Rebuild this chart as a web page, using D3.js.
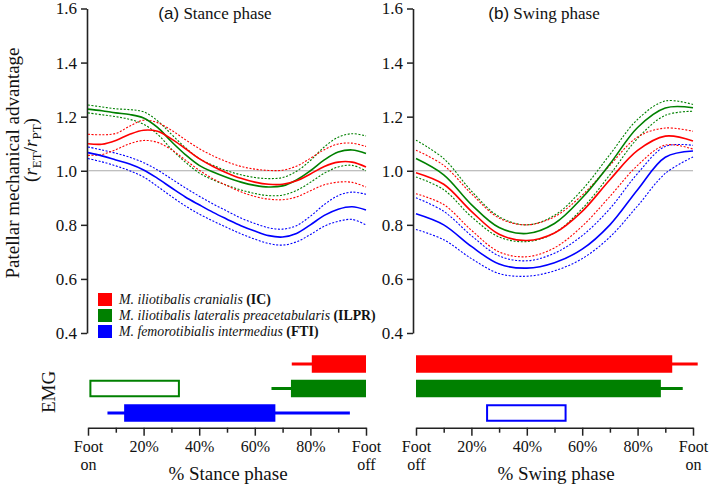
<!DOCTYPE html>
<html>
<head>
<meta charset="utf-8">
<script src="https://cdn.jsdelivr.net/npm/d3@7"></script>
<style>
  body { margin: 0; background: #fff; }
  svg text { font-family: "Liberation Serif", "Times New Roman", serif; fill: #111; }
</style>
</head>
<body>
<div id="chart"></div>
<script>
"use strict";
// Patellar mechanical advantage over stance / swing, with EMG activity bars below.

const pctStance = [0, 5, 10, 15, 20, 25, 30, 35, 40, 45, 50, 55, 60, 65, 70, 75, 80, 85, 90, 95, 100];
const pctSwing = [0, 10, 20, 30, 40, 50, 60, 70, 80, 90, 100];

// stance phase (mean, upper and lower dotted bounds)
const stanceICMean    = [1.100, 1.098, 1.112, 1.135, 1.150, 1.146, 1.118, 1.082, 1.045, 1.016, 0.992, 0.972, 0.958, 0.950, 0.950, 0.963, 0.988, 1.016, 1.032, 1.032, 1.014];
const stanceICUpper   = [1.135, 1.133, 1.138, 1.165, 1.187, 1.178, 1.150, 1.115, 1.082, 1.055, 1.033, 1.016, 1.006, 1.001, 1.002, 1.017, 1.046, 1.078, 1.099, 1.102, 1.090];
const stanceICLower   = [1.057, 1.060, 1.078, 1.100, 1.112, 1.105, 1.078, 1.040, 1.002, 0.970, 0.945, 0.922, 0.905, 0.895, 0.893, 0.903, 0.926, 0.948, 0.958, 0.957, 0.940];
const stanceILPRMean  = [1.228, 1.222, 1.214, 1.208, 1.195, 1.160, 1.108, 1.060, 1.020, 0.995, 0.975, 0.958, 0.946, 0.940, 0.944, 0.966, 1.000, 1.040, 1.069, 1.077, 1.064];
const stanceILPRUpper = [1.243, 1.236, 1.229, 1.226, 1.218, 1.185, 1.135, 1.086, 1.045, 1.020, 1.000, 0.985, 0.975, 0.971, 0.975, 0.998, 1.038, 1.088, 1.124, 1.137, 1.129];
const stanceILPRLower = [1.214, 1.207, 1.200, 1.190, 1.172, 1.135, 1.080, 1.032, 0.992, 0.966, 0.946, 0.929, 0.916, 0.908, 0.910, 0.927, 0.957, 0.991, 1.014, 1.020, 1.000];
const stanceFTIMean   = [1.067, 1.055, 1.040, 1.025, 1.003, 0.972, 0.937, 0.903, 0.874, 0.846, 0.821, 0.797, 0.777, 0.760, 0.755, 0.768, 0.800, 0.835, 0.858, 0.867, 0.855];
const stanceFTIUpper  = [1.088, 1.077, 1.065, 1.050, 1.030, 1.003, 0.970, 0.937, 0.906, 0.877, 0.851, 0.825, 0.805, 0.789, 0.784, 0.797, 0.832, 0.875, 0.908, 0.921, 0.913];
const stanceFTILower  = [1.045, 1.033, 1.018, 1.000, 0.977, 0.942, 0.905, 0.870, 0.840, 0.814, 0.790, 0.767, 0.747, 0.731, 0.725, 0.737, 0.764, 0.795, 0.813, 0.820, 0.800];

// swing phase
const swingICMean    = [0.993, 0.950, 0.850, 0.765, 0.742, 0.770, 0.850, 0.967, 1.075, 1.128, 1.110];
const swingICUpper   = [1.076, 1.020, 0.915, 0.825, 0.800, 0.830, 0.910, 1.020, 1.125, 1.158, 1.146];
const swingICLower   = [0.915, 0.875, 0.780, 0.700, 0.682, 0.715, 0.795, 0.905, 1.020, 1.095, 1.080];
const swingILPRMean  = [1.045, 0.985, 0.875, 0.790, 0.768, 0.805, 0.900, 1.025, 1.160, 1.232, 1.233];
const swingILPRUpper = [1.113, 1.045, 0.925, 0.830, 0.800, 0.835, 0.930, 1.060, 1.190, 1.258, 1.245];
const swingILPRLower = [0.977, 0.930, 0.830, 0.755, 0.738, 0.770, 0.860, 0.985, 1.120, 1.205, 1.220];
const swingFTIMean   = [0.841, 0.800, 0.720, 0.655, 0.640, 0.660, 0.710, 0.800, 0.930, 1.050, 1.073];
const swingFTIUpper  = [0.900, 0.850, 0.760, 0.685, 0.667, 0.695, 0.760, 0.860, 0.990, 1.090, 1.094];
const swingFTILower  = [0.783, 0.745, 0.675, 0.620, 0.610, 0.630, 0.675, 0.755, 0.870, 0.990, 1.051];

const muscles = ["IC", "ILPR", "FTI"];
const muscleNames = ["M. iliotibalis cranialis", "M. iliotibalis lateralis preacetabularis", "M. femorotibialis intermedius"];

// EMG: active bar, thin whisker (range), hollow box (weak / variable)
const stanceActive  = [["IC", 80.5, 100], ["ILPR", 73, 100], ["FTI", 13, 67.4]];
const stanceWhisker = [["IC", 73.3, 100], ["ILPR", 66, 100], ["FTI", 7, 94.2]];
const stanceHollow  = [["ILPR", 0.5, 32.7]];
const swingActive   = [["IC", 0, 92.5], ["ILPR", 0, 88.4]];
const swingWhisker  = [["IC", 0, 101.7], ["ILPR", 0, 96.3]];
const swingHollow   = [["FTI", 25.3, 54]];

const yTicks = [0.4, 0.6, 0.8, 1.0, 1.2, 1.4, 1.6];
const xTicks = [0, 10, 20, 30, 40, 50, 60, 70, 80, 90, 100];
const stanceTickLabels = [["Foot", "on"], [], ["20%"], [], ["40%"], [], ["60%"], [], ["80%"], [], ["Foot", "off"]];
const swingTickLabels  = [["Foot", "off"], [], ["20%"], [], ["40%"], [], ["60%"], [], ["80%"], [], ["Foot", "on"]];

const color = { IC: "#ff0000", ILPR: "#008000", FTI: "#0000ff" };
const SERIF = "Liberation Serif, Times New Roman, serif";

const W = 709, H = 486;
const svg = d3.select("#chart").append("svg").attr("width", W).attr("height", H);

const y = d3.scaleLinear().domain([0.4, 1.6]).range([333, 8.5]);
const rowY = d3.scalePoint().domain(muscles).range([364, 413]);
const barH = 17.5, axisY = 427.7;

function drawPanel(p) {
  const x = d3.scaleLinear().domain([0, 100]).range(p.xRange);
  const g = svg.append("g");

  // y axis
  g.append("g").attr("transform", `translate(${p.axisX},0)`)
    .call(d3.axisLeft(y).tickValues(yTicks).tickFormat(d3.format(".1f")).tickSize(6).tickSizeOuter(0))
    .call((a) => {
      a.select(".domain").attr("stroke", "#222").attr("stroke-width", 1.6);
      a.selectAll(".tick line").attr("stroke", "#222").attr("stroke-width", 1.5);
      a.selectAll(".tick text").attr("font-size", 17).attr("font-family", SERIF).attr("fill", "#111").attr("dx", -1);
    });

  // reference line at 1.0
  g.append("line").attr("x1", p.axisX + 1).attr("x2", x(100))
    .attr("y1", y(1)).attr("y2", y(1)).attr("stroke", "#aaa").attr("stroke-width", 1.2);

  const line = d3.line().x((d, i) => x(p.pct[i])).y((d) => y(d)).curve(d3.curveCatmullRom.alpha(0.5));
  p.series.forEach((s) => {
    [s.upper, s.lower].forEach((arr) => {
      g.append("path").attr("d", line(arr)).attr("fill", "none")
        .attr("stroke", color[s.m]).attr("stroke-width", 1.1).attr("stroke-dasharray", "2,1.6");
    });
  });
  p.series.forEach((s) => {
    g.append("path").attr("d", line(s.mean)).attr("fill", "none")
      .attr("stroke", color[s.m]).attr("stroke-width", 1.6);
  });

  // title
  const t = g.append("text").attr("x", p.titleX).attr("y", 19).attr("text-anchor", "middle")
    .attr("font-size", 17).attr("font-family", SERIF);
  t.append("tspan").attr("font-family", "Liberation Sans, Arial, sans-serif").text(p.tag);
  t.append("tspan").text(" " + p.title);

  // EMG
  p.whisker.forEach(([m, a, b]) => {
    g.append("line").attr("x1", x(a)).attr("x2", x(b)).attr("y1", rowY(m)).attr("y2", rowY(m))
      .attr("stroke", color[m]).attr("stroke-width", 3);
  });
  p.active.forEach(([m, a, b]) => {
    g.append("rect").attr("x", x(a)).attr("width", x(b) - x(a)).attr("y", rowY(m) - barH / 2).attr("height", barH)
      .attr("fill", color[m]);
  });
  p.hollow.forEach(([m, a, b]) => {
    g.append("rect").attr("x", x(a) + 1).attr("width", x(b) - x(a) - 1).attr("y", rowY(m) - barH / 2 + 1).attr("height", barH - 2)
      .attr("fill", "#fff").attr("stroke", color[m]).attr("stroke-width", 2);
  });

  // bottom axis
  const xa = g.append("g").attr("transform", `translate(0,${axisY})`)
    .call(d3.axisBottom(x).tickValues(xTicks).tickSize(8).tickSizeOuter(0).tickFormat(""));
  xa.select(".domain").attr("stroke", "#222").attr("stroke-width", 1.6);
  xa.selectAll(".tick line").attr("stroke", "#222").attr("stroke-width", 1.5)
    .attr("y2", (d) => (d % 20 === 0 ? 8 : 5));
  xa.selectAll(".tick").each(function (d, i) {
    const lab = p.tickLabels[i];
    if (!lab.length) return;
    const tx = d3.select(this).append("text").attr("y", 24).attr("text-anchor", "middle")
      .attr("font-size", 16).attr("font-family", SERIF).attr("fill", "#111");
    lab.forEach((s, k) => tx.append("tspan").attr("x", 0).attr("dy", k ? 18 : 0).text(s));
  });

  g.append("text").attr("x", p.xLabelX).attr("y", 480).attr("text-anchor", "middle")
    .attr("font-size", 19).attr("font-family", SERIF).text(p.xLabel);
}

drawPanel({
  xRange: [88, 366], axisX: 87, titleX: 215, tag: "(a)", title: "Stance phase", pct: pctStance,
  series: [
    { m: "FTI", mean: stanceFTIMean, upper: stanceFTIUpper, lower: stanceFTILower },
    { m: "ILPR", mean: stanceILPRMean, upper: stanceILPRUpper, lower: stanceILPRLower },
    { m: "IC", mean: stanceICMean, upper: stanceICUpper, lower: stanceICLower },
  ],
  active: stanceActive, whisker: stanceWhisker, hollow: stanceHollow,
  tickLabels: stanceTickLabels, xLabel: "% Stance phase", xLabelX: 228,
});

drawPanel({
  xRange: [416, 693], axisX: 413, titleX: 544, tag: "(b)", title: "Swing phase", pct: pctSwing,
  series: [
    { m: "FTI", mean: swingFTIMean, upper: swingFTIUpper, lower: swingFTILower },
    { m: "ILPR", mean: swingILPRMean, upper: swingILPRUpper, lower: swingILPRLower },
    { m: "IC", mean: swingICMean, upper: swingICUpper, lower: swingICLower },
  ],
  active: swingActive, whisker: swingWhisker, hollow: swingHollow,
  tickLabels: swingTickLabels, xLabel: "% Swing phase", xLabelX: 556,
});

// y axis label
svg.append("text").attr("transform", "translate(19,163) rotate(-90)")
  .attr("text-anchor", "middle").attr("font-size", 19).attr("font-family", SERIF).text("Patellar mechanical advantage");
const yl2 = svg.append("text").attr("transform", "translate(37,150) rotate(-90)")
  .attr("text-anchor", "middle").attr("font-size", 19).attr("font-family", SERIF);
yl2.append("tspan").text("(");
yl2.append("tspan").attr("font-style", "italic").text("r");
yl2.append("tspan").attr("font-size", 13).attr("dy", 4).text("ET");
yl2.append("tspan").attr("dy", -4).text("/");
yl2.append("tspan").attr("font-style", "italic").text("r");
yl2.append("tspan").attr("font-size", 13).attr("dy", 4).text("PT");
yl2.append("tspan").attr("dy", -4).text(")");

svg.append("text").attr("transform", "translate(55,392) rotate(-90)")
  .attr("text-anchor", "middle").attr("font-size", 19).attr("font-family", SERIF).text("EMG");

// legend
const leg = svg.append("g").attr("transform", "translate(98,293)");
muscles.forEach((m, i) => {
  const r = leg.append("g").attr("transform", `translate(0,${i * 16})`);
  r.append("rect").attr("width", 14).attr("height", 13).attr("fill", color[m]);
  const t = r.append("text").attr("x", 21).attr("y", 11).attr("font-size", 13.8).attr("font-family", SERIF);
  t.append("tspan").attr("font-style", "italic").text(muscleNames[i] + " ");
  t.append("tspan").attr("font-weight", "bold").text("(" + m + ")");
});
</script>
</body>
</html>
